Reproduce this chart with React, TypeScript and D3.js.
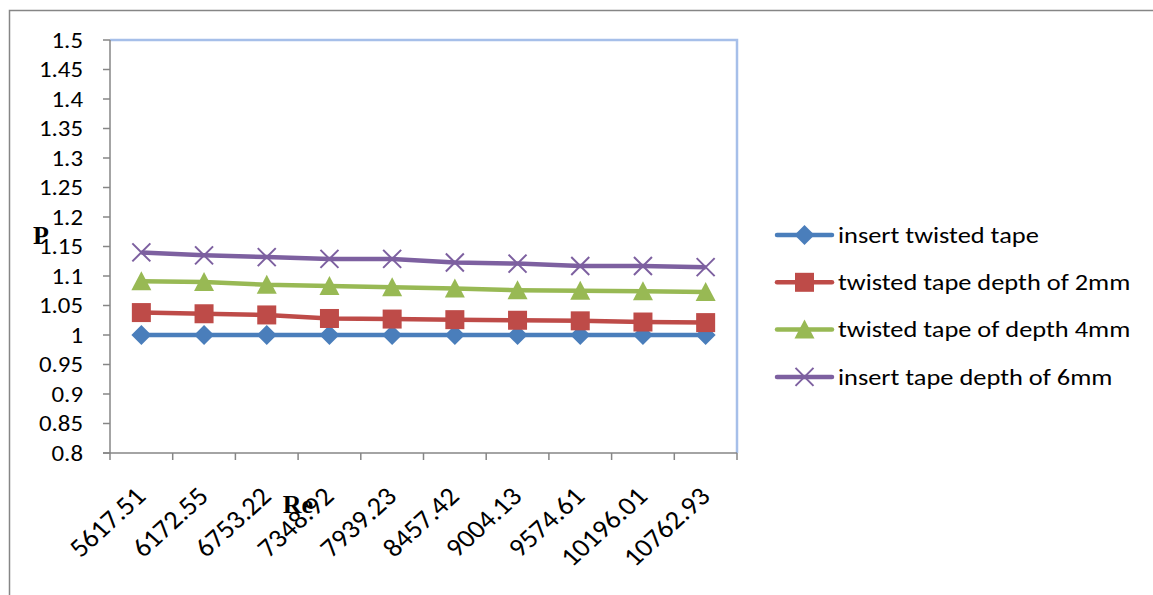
import React from "react";
import * as d3 from "d3";

const categories = ["5617.51", "6172.55", "6753.22", "7348.92", "7939.23", "8457.42", "9004.13", "9574.61", "10196.01", "10762.93"];
const insertTwisted = [1, 1, 1, 1, 1, 1, 1, 1, 1, 1];
const depth2 = [1.038, 1.036, 1.034, 1.028, 1.027, 1.026, 1.025, 1.024, 1.022, 1.021];
const depth4 = [1.091, 1.090, 1.085, 1.083, 1.081, 1.079, 1.076, 1.075, 1.074, 1.073];
const depth6 = [1.140, 1.135, 1.132, 1.129, 1.129, 1.123, 1.121, 1.117, 1.117, 1.115];
const yTicks = [0.8, 0.85, 0.9, 0.95, 1, 1.05, 1.1, 1.15, 1.2, 1.25, 1.3, 1.35, 1.4, 1.45, 1.5];

const series = [
  { name: "insert twisted tape", values: insertTwisted, color: "#4a7ebb", marker: "diamond" },
  { name: "twisted tape depth of 2mm", values: depth2, color: "#be4b48", marker: "square" },
  { name: "twisted tape of depth 4mm", values: depth4, color: "#98b954", marker: "triangle" },
  { name: "insert tape depth of 6mm", values: depth6, color: "#7d60a0", marker: "x" },
];

const W = 1153, H = 595;
const plot = { left: 110, right: 737, top: 40, bottom: 453 };
const font = "Carlito, Calibri, Lato, sans-serif";
const serif = "'Liberation Serif', 'Times New Roman', serif";

function Marker({ type, x, y, color }: { type: string; x: number; y: number; color: string }) {
  if (type === "diamond") {
    const s = 10;
    return <path d={`M${x},${y - s}L${x + s},${y}L${x},${y + s}L${x - s},${y}Z`} fill={color} />;
  }
  if (type === "square") {
    const s = 9.5;
    return <rect x={x - s} y={y - s} width={2 * s} height={2 * s} fill={color} />;
  }
  if (type === "triangle") {
    return <path d={`M${x},${y - 10}L${x + 10},${y + 9}L${x - 10},${y + 9}Z`} fill={color} />;
  }
  const s = 9;
  return (
    <path d={`M${x - s},${y - s}L${x + s},${y + s}M${x - s},${y + s}L${x + s},${y - s}`} stroke={color} strokeWidth={2} fill="none" />
  );
}

export default function App() {
  const x = d3.scaleBand<string>().domain(categories).range([plot.left, plot.right]);
  const y = d3.scaleLinear().domain([0.8, 1.5]).range([plot.bottom, plot.top]);
  const cx = (c: string) => (x(c) as number) + x.bandwidth() / 2;
  const line = d3.line<number>().x((_, i) => cx(categories[i])).y((v) => y(v));
  const tickXs = categories.map((c) => x(c) as number).concat([plot.right]);
  const legendX = 777, legendY0 = 235, legendStep = 47.3;

  return (
    <svg width={W} height={H} style={{ position: "absolute", left: 0, top: 0, background: "#fff" }}>
      <rect x={0} y={0} width={W} height={H} fill="#fff" />
      {/* outer chart frame */}
      <path d={`M9.5,${H + 5}V10.5H${W + 5}`} fill="none" stroke="#868686" strokeWidth={1.5} />
      {/* plot area border (top/right) */}
      <path d={`M${plot.left},${plot.top}H${plot.right}V${plot.bottom}`} fill="none" stroke="#a6bfe9" strokeWidth={2.5} />
      {/* y axis */}
      <line x1={plot.left} x2={plot.left} y1={plot.top} y2={plot.bottom} stroke="#868686" strokeWidth={1.5} />
      {yTicks.map((t) => (
        <g key={t}>
          <line x1={plot.left - 7} x2={plot.left} y1={y(t)} y2={y(t)} stroke="#868686" strokeWidth={1.5} />
          <g transform={`translate(83,${y(t)}) scale(1.13,1)`}>
            <text x={0} y={0} dy="0.35em" textAnchor="end" fontFamily={font} fontSize={22} fill="#000">
              {String(t)}
            </text>
          </g>
        </g>
      ))}
      {/* x axis */}
      <line x1={plot.left - 7} x2={plot.right} y1={plot.bottom} y2={plot.bottom} stroke="#868686" strokeWidth={1.5} />
      {tickXs.map((tx, i) => (
        <line key={i} x1={tx} x2={tx} y1={plot.bottom} y2={plot.bottom + 7} stroke="#868686" strokeWidth={1.5} />
      ))}
      {categories.map((c) => (
        <g key={c} transform={`translate(${cx(c) + 6},${plot.bottom + 45}) scale(1.1,1) rotate(-45)`}>
          <text x={0} y={0} textAnchor="end" fontFamily={font} fontSize={26} fill="#000">
            {c}
          </text>
        </g>
      ))}
      {/* series */}
      {series.map((s) => (
        <g key={s.name}>
          <path d={line(s.values) as string} fill="none" stroke={s.color} strokeWidth={4.5} strokeLinejoin="round" />
          {s.values.map((v, i) => (
            <Marker key={i} type={s.marker} x={cx(categories[i])} y={y(v)} color={s.color} />
          ))}
        </g>
      ))}
      {/* axis titles */}
      <text x={33} y={244} fontFamily={serif} fontWeight="bold" fontSize={26} fill="#000">P</text>
      <text x={298} y={513} textAnchor="middle" fontFamily={serif} fontWeight="bold" fontSize={26} fill="#000">Re</text>
      {/* legend */}
      {series.map((s, i) => {
        const ly = legendY0 + i * legendStep;
        return (
          <g key={s.name}>
            <line x1={legendX} x2={legendX + 55} y1={ly} y2={ly} stroke={s.color} strokeWidth={4.5} strokeLinecap="round" />
            <Marker type={s.marker} x={legendX + 27.5} y={ly} color={s.color} />
            <g transform={`translate(838,${ly}) scale(1.2,1)`}>
              <text x={0} y={0} dy="0.35em" fontFamily={font} fontSize={22} fill="#000">
                {s.name}
              </text>
            </g>
          </g>
        );
      })}
    </svg>
  );
}
